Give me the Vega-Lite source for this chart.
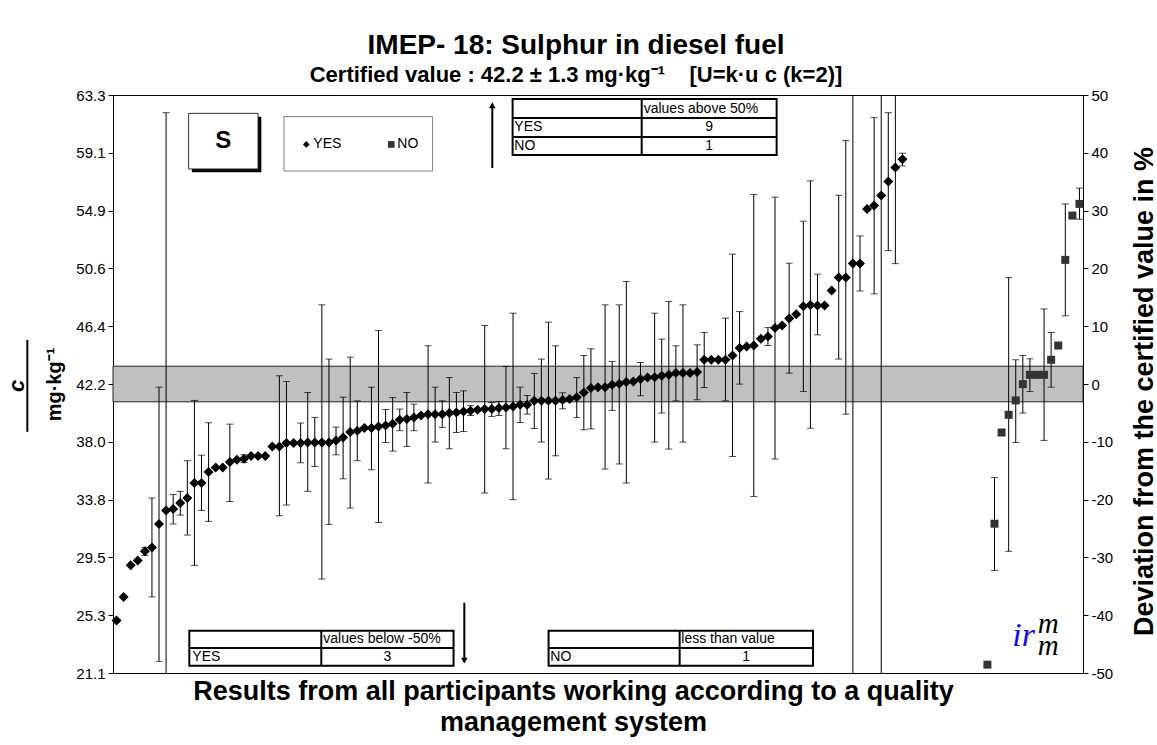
{
  "$schema": "https://vega.github.io/schema/vega-lite/v6.json",
  "width": 970,
  "height": 578,
  "autosize": "none",
  "padding": {"left": 113, "top": 95, "right": 74, "bottom": 72},
  "background": "white",
  "title": {
    "text": "IMEP- 18: Sulphur in diesel fuel",
    "subtitle": "Certified value : 42.2 ± 1.3 mg·kg⁻¹\u00a0\u00a0\u00a0\u00a0[U=k·u\u00a0c\u00a0(k=2)]",
    "font": "Liberation Sans",
    "subtitleFont": "Liberation Sans",
    "fontSize": 28,
    "subtitleFontSize": 22,
    "fontWeight": "bold",
    "subtitleFontWeight": "bold",
    "color": "black",
    "subtitleColor": "black",
    "anchor": "middle",
    "frame": "group",
    "dx": -22,
    "offset": 2,
    "subtitlePadding": 5
  },
  "config": {
    "view": {"stroke": "black", "strokeWidth": 1},
    "font": "Liberation Sans",
    "axis": {
      "labelFont": "Liberation Sans",
      "titleFont": "Liberation Sans",
      "labelColor": "black",
      "titleColor": "black",
      "domainColor": "black",
      "tickColor": "black",
      "grid": false
    }
  },
  "datasets": {
    "pts": [
      {"i":1,"v":24.94,"s":"YES"},
      {"i":2,"v":26.65,"s":"YES"},
      {"i":3,"v":28.96,"s":"YES"},
      {"i":4,"v":29.32,"s":"YES"},
      {"i":5,"v":29.98,"lo":29.68,"hi":30.27,"s":"YES"},
      {"i":6,"v":30.27,"lo":26.65,"hi":33.87,"s":"YES"},
      {"i":7,"v":31.98,"lo":21.95,"hi":41.97,"s":"YES"},
      {"i":8,"v":32.97,"lo":3.93,"hi":62.01,"s":"YES"},
      {"i":9,"v":33.07,"lo":31.98,"hi":34.14,"s":"YES"},
      {"i":10,"v":33.51,"lo":32.63,"hi":34.36,"s":"YES"},
      {"i":11,"v":33.87,"lo":31.17,"hi":36.6,"s":"YES"},
      {"i":12,"v":34.97,"lo":28.96,"hi":41.0,"s":"YES"},
      {"i":13,"v":34.97,"lo":32.97,"hi":37.0,"s":"YES"},
      {"i":14,"v":35.77,"lo":32.17,"hi":39.37,"s":"YES"},
      {"i":15,"v":36.11,"s":"YES"},
      {"i":16,"v":36.11,"s":"YES"},
      {"i":17,"v":36.5,"lo":33.62,"hi":39.27,"s":"YES"},
      {"i":18,"v":36.67,"s":"YES"},
      {"i":19,"v":36.74,"lo":36.47,"hi":37.03,"s":"YES"},
      {"i":20,"v":36.94,"s":"YES"},
      {"i":21,"v":36.94,"s":"YES"},
      {"i":22,"v":36.94,"s":"YES"},
      {"i":23,"v":37.64,"s":"YES"},
      {"i":24,"v":37.64,"lo":32.58,"hi":42.8,"s":"YES"},
      {"i":25,"v":37.89,"lo":33.36,"hi":42.38,"s":"YES"},
      {"i":26,"v":37.89,"s":"YES"},
      {"i":27,"v":37.89,"lo":36.45,"hi":39.35,"s":"YES"},
      {"i":28,"v":37.93,"lo":34.36,"hi":41.58,"s":"YES"},
      {"i":29,"v":37.93,"lo":36.18,"hi":39.76,"s":"YES"},
      {"i":30,"v":37.93,"lo":27.96,"hi":47.98,"s":"YES"},
      {"i":31,"v":37.93,"lo":31.95,"hi":44.02,"s":"YES"},
      {"i":32,"v":38.08,"lo":37.03,"hi":39.05,"s":"YES"},
      {"i":33,"v":38.3,"lo":35.28,"hi":41.24,"s":"YES"},
      {"i":34,"v":38.69,"lo":33.14,"hi":44.16,"s":"YES"},
      {"i":35,"v":38.78,"lo":36.6,"hi":40.97,"s":"YES"},
      {"i":36,"v":38.98,"s":"YES"},
      {"i":37,"v":38.98,"lo":35.94,"hi":41.97,"s":"YES"},
      {"i":38,"v":39.1,"lo":32.09,"hi":46.1,"s":"YES"},
      {"i":39,"v":39.17,"lo":37.93,"hi":40.34,"s":"YES"},
      {"i":40,"v":39.3,"lo":37.3,"hi":41.21,"s":"YES"},
      {"i":41,"v":39.59,"lo":38.79,"hi":40.37,"s":"YES"},
      {"i":42,"v":39.64,"lo":37.64,"hi":41.58,"s":"YES"},
      {"i":43,"v":39.76,"lo":38.79,"hi":40.73,"s":"YES"},
      {"i":44,"v":39.9,"s":"YES"},
      {"i":45,"v":40.0,"lo":34.97,"hi":44.99,"s":"YES"},
      {"i":46,"v":40.0,"lo":37.96,"hi":41.97,"s":"YES"},
      {"i":47,"v":40.0,"lo":39.03,"hi":40.97,"s":"YES"},
      {"i":48,"v":40.08,"lo":37.47,"hi":42.67,"s":"YES"},
      {"i":49,"v":40.12,"lo":38.66,"hi":41.58,"s":"YES"},
      {"i":50,"v":40.19,"lo":38.73,"hi":41.7,"s":"YES"},
      {"i":51,"v":40.24,"lo":39.9,"hi":40.63,"s":"YES"},
      {"i":52,"v":40.32,"s":"YES"},
      {"i":53,"v":40.37,"lo":34.24,"hi":46.47,"s":"YES"},
      {"i":54,"v":40.37,"lo":39.83,"hi":40.85,"s":"YES"},
      {"i":55,"v":40.44,"lo":39.9,"hi":40.92,"s":"YES"},
      {"i":56,"v":40.49,"lo":37.47,"hi":43.48,"s":"YES"},
      {"i":57,"v":40.56,"lo":33.75,"hi":47.37,"s":"YES"},
      {"i":58,"v":40.68,"lo":39.39,"hi":41.97,"s":"YES"},
      {"i":59,"v":40.68,"lo":40.0,"hi":41.36,"s":"YES"},
      {"i":60,"v":40.97,"lo":38.95,"hi":42.97,"s":"YES"},
      {"i":61,"v":40.97,"lo":37.96,"hi":44.02,"s":"YES"},
      {"i":62,"v":40.97,"lo":35.26,"hi":46.72,"s":"YES"},
      {"i":63,"v":40.97,"lo":36.96,"hi":44.99,"s":"YES"},
      {"i":64,"v":41.03,"lo":40.39,"hi":41.56,"s":"YES"},
      {"i":65,"v":41.11,"s":"YES"},
      {"i":66,"v":41.23,"lo":39.76,"hi":42.67,"s":"YES"},
      {"i":67,"v":41.58,"lo":38.86,"hi":44.28,"s":"YES"},
      {"i":68,"v":41.9,"lo":38.93,"hi":44.77,"s":"YES"},
      {"i":69,"v":41.97,"s":"YES"},
      {"i":70,"v":41.97,"lo":35.99,"hi":47.98,"s":"YES"},
      {"i":71,"v":42.14,"lo":40.27,"hi":43.84,"s":"YES"},
      {"i":72,"v":42.21,"lo":36.36,"hi":47.98,"s":"YES"},
      {"i":73,"v":42.34,"lo":34.97,"hi":49.68,"s":"YES"},
      {"i":74,"v":42.38,"s":"YES"},
      {"i":75,"v":42.56,"lo":41.34,"hi":43.77,"s":"YES"},
      {"i":76,"v":42.67,"s":"YES"},
      {"i":77,"v":42.7,"lo":37.96,"hi":47.37,"s":"YES"},
      {"i":78,"v":42.8,"lo":40.08,"hi":45.48,"s":"YES"},
      {"i":79,"v":42.87,"lo":37.45,"hi":48.22,"s":"YES"},
      {"i":80,"v":43.0,"lo":40.97,"hi":44.99,"s":"YES"},
      {"i":81,"v":43.0,"lo":37.96,"hi":47.98,"s":"YES"},
      {"i":82,"v":43.0,"s":"YES"},
      {"i":83,"v":43.07,"lo":41.05,"hi":45.06,"s":"YES"},
      {"i":84,"v":43.97,"lo":41.94,"hi":45.96,"s":"YES"},
      {"i":85,"v":43.97,"s":"YES"},
      {"i":86,"v":43.97,"s":"YES"},
      {"i":87,"v":43.97,"lo":40.97,"hi":47.01,"s":"YES"},
      {"i":88,"v":44.28,"lo":36.91,"hi":51.68,"s":"YES"},
      {"i":89,"v":44.82,"lo":42.19,"hi":47.49,"s":"YES"},
      {"i":90,"v":44.94,"s":"YES"},
      {"i":91,"v":45.01,"lo":33.99,"hi":56.03,"s":"YES"},
      {"i":92,"v":45.5,"s":"YES"},
      {"i":93,"v":45.67,"lo":45.01,"hi":46.32,"s":"YES"},
      {"i":94,"v":46.28,"lo":36.72,"hi":55.84,"s":"YES"},
      {"i":95,"v":46.47,"s":"YES"},
      {"i":96,"v":46.98,"lo":42.99,"hi":51.02,"s":"YES"},
      {"i":97,"v":47.3,"s":"YES"},
      {"i":98,"v":47.88,"lo":41.65,"hi":54.09,"s":"YES"},
      {"i":99,"v":47.96,"lo":38.97,"hi":57.03,"s":"YES"},
      {"i":100,"v":47.93,"lo":45.79,"hi":50.22,"s":"YES"},
      {"i":101,"v":47.93,"s":"YES"},
      {"i":102,"v":49.02,"s":"YES"},
      {"i":103,"v":49.97,"lo":44.02,"hi":55.98,"s":"YES"},
      {"i":104,"v":49.97,"lo":40.0,"hi":59.97,"s":"YES"},
      {"i":105,"v":50.99,"lo":10.0,"hi":92.0,"s":"YES"},
      {"i":106,"v":50.99,"lo":48.99,"hi":53.01,"s":"YES"},
      {"i":107,"v":54.98,"s":"YES"},
      {"i":108,"v":55.23,"lo":48.78,"hi":61.65,"s":"YES"},
      {"i":109,"v":55.96,"lo":15.0,"hi":97.0,"s":"YES"},
      {"i":110,"v":56.98,"lo":51.94,"hi":62.01,"s":"YES"},
      {"i":111,"v":58.0,"lo":50.99,"hi":65.01,"s":"YES"},
      {"i":112,"v":58.61,"lo":58.12,"hi":59.05,"s":"YES"},
      {"i":124,"v":21.71,"s":"NO"},
      {"i":125,"v":32.0,"lo":28.59,"hi":35.38,"s":"NO"},
      {"i":126,"v":38.66,"s":"NO"},
      {"i":127,"v":39.95,"lo":29.98,"hi":49.97,"s":"NO"},
      {"i":128,"v":41.0,"lo":37.93,"hi":43.97,"s":"NO"},
      {"i":129,"v":42.19,"lo":40.08,"hi":44.28,"s":"NO"},
      {"i":130,"v":42.87,"lo":41.65,"hi":44.04,"s":"NO"},
      {"i":131,"v":42.87,"s":"NO"},
      {"i":132,"v":42.87,"lo":38.08,"hi":47.68,"s":"NO"},
      {"i":133,"v":43.97,"lo":41.97,"hi":45.96,"s":"NO"},
      {"i":134,"v":45.01,"s":"NO"},
      {"i":135,"v":51.26,"lo":47.18,"hi":55.35,"s":"NO"},
      {"i":136,"v":54.5,"s":"NO"},
      {"i":137,"v":55.35,"lo":54.23,"hi":56.5,"s":"NO"}
    ]
  },
  "layer": [
    {
      "layer": [
        {
          "data": {"values": [{}]},
          "mark": {"type": "rect", "fill": "#c0c0c0", "stroke": "#222222", "strokeWidth": 1},
          "encoding": {
            "x": {"datum": 0.5, "type": "quantitative",
              "scale": {"domain": [0.5, 137.5], "nice": false, "zero": false},
              "axis": {
                "title": ["Results from all participants working according to a quality", "management system"],
                "labels": false, "ticks": false, "domain": true,
                "titleFontSize": 27, "titleFontWeight": "bold",
                "titleX": 460, "titleY": 5, "titleAlign": "center", "titleBaseline": "top",
                "titleLineHeight": 31
              }},
            "x2": {"datum": 137.5},
            "y": {"datum": 40.9, "type": "quantitative",
              "scale": {"domain": [21.1, 63.3], "nice": false, "zero": false},
              "axis": {
                "values": [21.1, 25.32, 29.54, 33.76, 37.98, 42.2, 46.42, 50.64, 54.86, 59.08, 63.3],
                "format": ".1f", "labelFontSize": 15, "tickSize": 5, "labelPadding": 3,
                "title": "mg·kg⁻¹", "titleFontSize": 20, "titleFontWeight": "bold",
                "titleAngle": -90, "titleX": -59, "titleY": 289, "titleAlign": "center", "titleBaseline": "middle"
              }},
            "y2": {"datum": 43.5}
          }
        },
        {
          "data": {"name": "pts"},
          "transform": [{"filter": "isValid(datum.lo)"}],
          "mark": {"type": "rule", "color": "black", "strokeWidth": 1, "clip": true},
          "encoding": {
            "x": {"field": "i", "type": "quantitative"},
            "y": {"field": "lo", "type": "quantitative"},
            "y2": {"field": "hi"}
          }
        },
        {
          "data": {"name": "pts"},
          "transform": [{"filter": "isValid(datum.lo)"}],
          "mark": {"type": "tick", "orient": "horizontal", "color": "black", "size": 7, "thickness": 1, "clip": true},
          "encoding": {
            "x": {"field": "i", "type": "quantitative"},
            "y": {"field": "lo", "type": "quantitative"}
          }
        },
        {
          "data": {"name": "pts"},
          "transform": [{"filter": "isValid(datum.hi)"}],
          "mark": {"type": "tick", "orient": "horizontal", "color": "black", "size": 7, "thickness": 1, "clip": true},
          "encoding": {
            "x": {"field": "i", "type": "quantitative"},
            "y": {"field": "hi", "type": "quantitative"}
          }
        },
        {
          "data": {"name": "pts"},
          "transform": [{"filter": "datum.s === 'YES'"}],
          "mark": {"type": "point", "shape": "diamond", "filled": true, "color": "black", "size": 100, "opacity": 1},
          "encoding": {
            "x": {"field": "i", "type": "quantitative"},
            "y": {"field": "v", "type": "quantitative"}
          }
        },
        {
          "data": {"name": "pts"},
          "transform": [{"filter": "datum.s === 'NO'"}],
          "mark": {"type": "point", "shape": "square", "filled": true, "color": "#333333", "size": 64, "opacity": 1},
          "encoding": {
            "x": {"field": "i", "type": "quantitative"},
            "y": {"field": "v", "type": "quantitative"}
          }
        },
        {
          "data": {"values": [{}]},
          "mark": {"type": "rect", "fill": "black"},
          "encoding": {"x": {"datum": 11.64}, "x2": {"datum": 21.45}, "y": {"datum": 57.66}, "y2": {"datum": 61.72}}
        },
        {
          "data": {"values": [{}]},
          "mark": {"type": "rect", "fill": "white", "stroke": "#333333", "strokeWidth": 1},
          "encoding": {"x": {"datum": 11.18}, "x2": {"datum": 20.98}, "y": {"datum": 57.9}, "y2": {"datum": 61.96}}
        },
        {
          "data": {"values": [{}]},
          "mark": {"type": "text", "text": "S", "fontSize": 24, "fontWeight": "bold", "align": "center", "baseline": "middle", "color": "black"},
          "encoding": {"x": {"datum": 16.08}, "y": {"datum": 59.94}}
        },
        {
          "data": {"values": [{}]},
          "mark": {"type": "rect", "fill": "white", "stroke": "#808080", "strokeWidth": 1},
          "encoding": {"x": {"datum": 24.65}, "x2": {"datum": 45.64}, "y": {"datum": 57.75}, "y2": {"datum": 61.72}}
        },
        {
          "data": {"values": [{}]},
          "mark": {"type": "point", "shape": "diamond", "filled": true, "color": "black", "size": 45, "opacity": 1},
          "encoding": {"x": {"datum": 27.8}, "y": {"datum": 59.69}}
        },
        {
          "data": {"values": [{}]},
          "mark": {"type": "text", "text": "YES", "fontSize": 14, "align": "left", "baseline": "middle", "color": "black"},
          "encoding": {"x": {"datum": 28.79}, "y": {"datum": 59.69}}
        },
        {
          "data": {"values": [{}]},
          "mark": {"type": "point", "shape": "square", "filled": true, "color": "#333333", "size": 45, "opacity": 1},
          "encoding": {"x": {"datum": 39.8}, "y": {"datum": 59.69}}
        },
        {
          "data": {"values": [{}]},
          "mark": {"type": "text", "text": "NO", "fontSize": 14, "align": "left", "baseline": "middle", "color": "black"},
          "encoding": {"x": {"datum": 40.65}, "y": {"datum": 59.69}}
        },
        {
          "data": {"values": [{}]},
          "mark": {"type": "rule", "color": "black", "strokeWidth": 2},
          "encoding": {"x": {"datum": 54.07}, "y": {"datum": 57.97}, "y2": {"datum": 62.4}}
        },
        {
          "data": {"values": [{}]},
          "mark": {"type": "point", "shape": "triangle-up", "filled": true, "color": "black", "size": 45, "opacity": 1},
          "encoding": {"x": {"datum": 54.07}, "y": {"datum": 62.55}}
        },
        {
          "data": {"values": [{}]},
          "mark": {"type": "rect", "fill": "white", "stroke": "black", "strokeWidth": 2},
          "encoding": {"x": {"datum": 56.94}, "x2": {"datum": 94.23}, "y": {"datum": 58.92}, "y2": {"datum": 63.01}}
        },
        {
          "data": {"values": [{}]},
          "mark": {"type": "rule", "color": "black", "strokeWidth": 2},
          "encoding": {"x": {"datum": 56.94}, "x2": {"datum": 94.23}, "y": {"datum": 61.62}}
        },
        {
          "data": {"values": [{}]},
          "mark": {"type": "rule", "color": "black", "strokeWidth": 2},
          "encoding": {"x": {"datum": 56.94}, "x2": {"datum": 94.23}, "y": {"datum": 60.24}}
        },
        {
          "data": {"values": [{}]},
          "mark": {"type": "rule", "color": "black", "strokeWidth": 2},
          "encoding": {"x": {"datum": 75.17}, "y": {"datum": 58.92}, "y2": {"datum": 63.01}}
        },
        {
          "data": {"values": [{}]},
          "mark": {"type": "text", "text": "values above 50%", "fontSize": 14, "align": "left", "baseline": "middle", "color": "black"},
          "encoding": {"x": {"datum": 75.45}, "y": {"datum": 62.31}}
        },
        {
          "data": {"values": [{}]},
          "mark": {"type": "text", "text": "YES", "fontSize": 14, "align": "left", "baseline": "middle", "color": "black"},
          "encoding": {"x": {"datum": 57.18}, "y": {"datum": 60.93}}
        },
        {
          "data": {"values": [{}]},
          "mark": {"type": "text", "text": "NO", "fontSize": 14, "align": "left", "baseline": "middle", "color": "black"},
          "encoding": {"x": {"datum": 57.18}, "y": {"datum": 59.58}}
        },
        {
          "data": {"values": [{}]},
          "mark": {"type": "text", "text": "9", "fontSize": 14, "align": "center", "baseline": "middle", "color": "black"},
          "encoding": {"x": {"datum": 84.7}, "y": {"datum": 60.93}}
        },
        {
          "data": {"values": [{}]},
          "mark": {"type": "text", "text": "1", "fontSize": 14, "align": "center", "baseline": "middle", "color": "black"},
          "encoding": {"x": {"datum": 84.7}, "y": {"datum": 59.58}}
        },
        {
          "data": {"values": [{}]},
          "mark": {"type": "rect", "fill": "white", "stroke": "black", "strokeWidth": 2},
          "encoding": {"x": {"datum": 11.28}, "x2": {"datum": 48.6}, "y": {"datum": 21.63}, "y2": {"datum": 24.19}}
        },
        {
          "data": {"values": [{}]},
          "mark": {"type": "rule", "color": "black", "strokeWidth": 2},
          "encoding": {"x": {"datum": 11.28}, "x2": {"datum": 48.6}, "y": {"datum": 22.92}}
        },
        {
          "data": {"values": [{}]},
          "mark": {"type": "rule", "color": "black", "strokeWidth": 2},
          "encoding": {"x": {"datum": 29.92}, "y": {"datum": 21.63}, "y2": {"datum": 24.19}}
        },
        {
          "data": {"values": [{}]},
          "mark": {"type": "text", "text": "values below -50%", "fontSize": 14, "align": "left", "baseline": "middle", "color": "black"},
          "encoding": {"x": {"datum": 30.2}, "y": {"datum": 23.56}}
        },
        {
          "data": {"values": [{}]},
          "mark": {"type": "text", "text": "YES", "fontSize": 14, "align": "left", "baseline": "middle", "color": "black"},
          "encoding": {"x": {"datum": 11.7}, "y": {"datum": 22.29}}
        },
        {
          "data": {"values": [{}]},
          "mark": {"type": "text", "text": "3", "fontSize": 14, "align": "center", "baseline": "middle", "color": "black"},
          "encoding": {"x": {"datum": 39.24}, "y": {"datum": 22.29}}
        },
        {
          "data": {"values": [{}]},
          "mark": {"type": "rule", "color": "black", "strokeWidth": 2},
          "encoding": {"x": {"datum": 50.12}, "y": {"datum": 22.2}, "y2": {"datum": 26.23}}
        },
        {
          "data": {"values": [{}]},
          "mark": {"type": "point", "shape": "triangle-down", "filled": true, "color": "black", "size": 45, "opacity": 1},
          "encoding": {"x": {"datum": 50.12}, "y": {"datum": 22.0}}
        },
        {
          "data": {"values": [{}]},
          "mark": {"type": "rect", "fill": "white", "stroke": "black", "strokeWidth": 2},
          "encoding": {"x": {"datum": 62.02}, "x2": {"datum": 99.37}, "y": {"datum": 21.63}, "y2": {"datum": 24.19}}
        },
        {
          "data": {"values": [{}]},
          "mark": {"type": "rule", "color": "black", "strokeWidth": 2},
          "encoding": {"x": {"datum": 62.02}, "x2": {"datum": 99.37}, "y": {"datum": 22.92}}
        },
        {
          "data": {"values": [{}]},
          "mark": {"type": "rule", "color": "black", "strokeWidth": 2},
          "encoding": {"x": {"datum": 80.53}, "y": {"datum": 21.63}, "y2": {"datum": 24.19}}
        },
        {
          "data": {"values": [{}]},
          "mark": {"type": "text", "text": "less than value", "fontSize": 14, "align": "left", "baseline": "middle", "color": "black"},
          "encoding": {"x": {"datum": 80.77}, "y": {"datum": 23.56}}
        },
        {
          "data": {"values": [{}]},
          "mark": {"type": "text", "text": "NO", "fontSize": 14, "align": "left", "baseline": "middle", "color": "black"},
          "encoding": {"x": {"datum": 62.26}, "y": {"datum": 22.29}}
        },
        {
          "data": {"values": [{}]},
          "mark": {"type": "text", "text": "1", "fontSize": 14, "align": "center", "baseline": "middle", "color": "black"},
          "encoding": {"x": {"datum": 89.94}, "y": {"datum": 22.29}}
        },
        {
          "data": {"values": [{}]},
          "mark": {"type": "text", "text": "ir", "font": "Liberation Serif", "fontStyle": "italic", "fontSize": 34, "align": "left", "baseline": "alphabetic", "color": "#1010ee"},
          "encoding": {"x": {"datum": 127.5}, "y": {"datum": 23.1}}
        },
        {
          "data": {"values": [{}]},
          "mark": {"type": "text", "text": ["m", "m"], "lineHeight": 22, "font": "Liberation Serif", "fontStyle": "italic", "fontSize": 29, "align": "left", "baseline": "alphabetic", "color": "black"},
          "encoding": {"x": {"datum": 131.1}, "y": {"datum": 24.0}}
        },
        {
          "data": {"values": [{}]},
          "mark": {"type": "text", "text": "c", "fontSize": 22, "fontWeight": "bold", "fontStyle": "italic", "align": "center", "baseline": "middle", "angle": 270, "color": "black"},
          "encoding": {"x": {"datum": -13.0}, "y": {"datum": 42.07}}
        },
        {
          "data": {"values": [{}]},
          "mark": {"type": "rule", "color": "black", "strokeWidth": 2},
          "encoding": {"x": {"datum": -11.6}, "y": {"datum": 38.71}, "y2": {"datum": 45.42}}
        }
      ]
    },
    {
      "data": {"values": [{}]},
      "mark": {"type": "rule", "opacity": 0},
      "encoding": {
        "y": {"datum": 42.2, "type": "quantitative",
          "scale": {"domain": [21.1, 63.3], "nice": false, "zero": false},
          "axis": {
            "orient": "right",
            "values": [21.1, 25.32, 29.54, 33.76, 37.98, 42.2, 46.42, 50.64, 54.86, 59.08, 63.3],
            "labelExpr": "round((datum.value/42.2-1)*100)",
            "labelFontSize": 15, "tickSize": 5, "labelPadding": 3,
            "title": "Deviation from the certified value in %",
            "titleFontSize": 27, "titleFontWeight": "bold",
            "titleAngle": -90, "titleX": 61, "titleY": 296, "titleAlign": "center", "titleBaseline": "middle"
          }}
      }
    }
  ],
  "resolve": {"scale": {"y": "independent"}}
}
